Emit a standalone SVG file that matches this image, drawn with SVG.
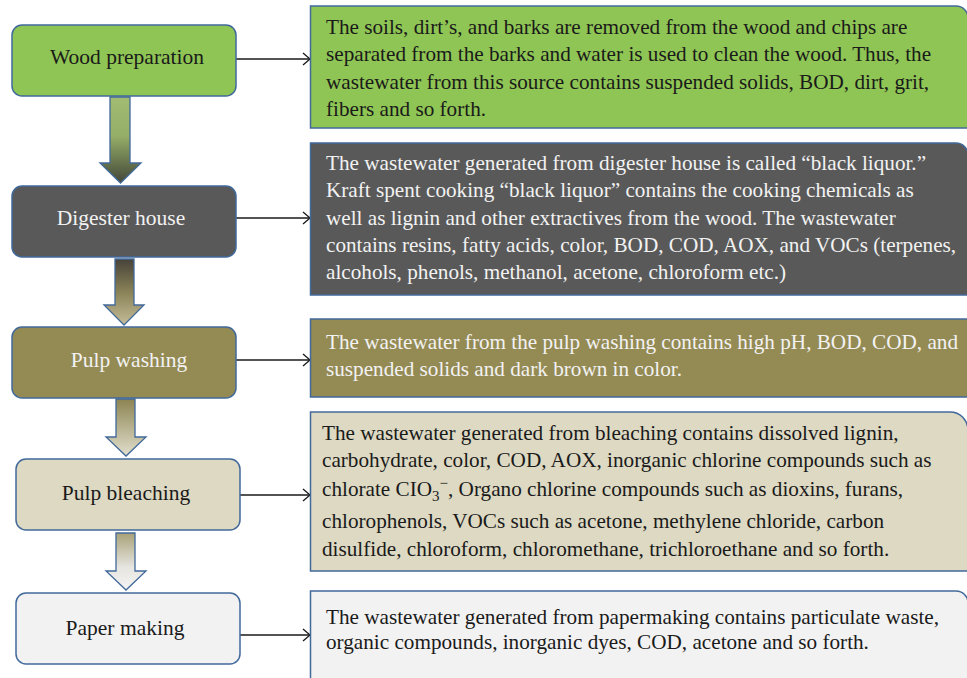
<svg xmlns="http://www.w3.org/2000/svg" width="967" height="678" viewBox="0 0 967 678">
<defs>
<style>
.box{stroke:#41699a;stroke-width:1.5}
.lbl{font-family:"Liberation Serif","Times New Roman",serif;font-size:21.5px;text-anchor:middle}
.txt{font-family:"Liberation Serif","Times New Roman",serif;font-size:21.2px}
.dk{fill:#f2f2f2}
.bk{fill:#1a1a1a}
.conn{stroke:#1a1a1a;stroke-width:1.3;fill:none}
.arw{stroke:#41699a;stroke-width:1.3}
</style>
<linearGradient id="g1" x1="0" y1="0" x2="0" y2="1">
<stop offset="0" stop-color="#a3bc73"/><stop offset="0.45" stop-color="#95ae68"/><stop offset="1" stop-color="#434739"/>
</linearGradient>
<linearGradient id="g2" x1="0" y1="0" x2="0" y2="1">
<stop offset="0" stop-color="#46423a"/><stop offset="0.5" stop-color="#8a8257"/><stop offset="1" stop-color="#c3bd98"/>
</linearGradient>
<linearGradient id="g3" x1="0" y1="0" x2="0" y2="1">
<stop offset="0" stop-color="#8c8452"/><stop offset="1" stop-color="#e2dfcd"/>
</linearGradient>
<linearGradient id="g4" x1="0" y1="0" x2="0" y2="1">
<stop offset="0" stop-color="#a8a178"/><stop offset="0.6" stop-color="#e6e5e0"/><stop offset="1" stop-color="#f4f4f4"/>
</linearGradient>
<marker id="chev" markerWidth="10" markerHeight="14" refX="8" refY="7" orient="auto" markerUnits="userSpaceOnUse">
<path d="M1,1 L8,7 L1,13" fill="none" stroke="#1a1a1a" stroke-width="1.3"/>
</marker>
</defs>

<g id="connectors">
<line class="conn" x1="236" y1="59" x2="310" y2="59" marker-end="url(#chev)"/>
<line class="conn" x1="236" y1="218" x2="310" y2="218" marker-end="url(#chev)"/>
<line class="conn" x1="236" y1="360" x2="310" y2="360" marker-end="url(#chev)"/>
<line class="conn" x1="240" y1="495" x2="310" y2="495" marker-end="url(#chev)"/>
<line class="conn" x1="240" y1="635" x2="310" y2="635" marker-end="url(#chev)"/>
<path class="arw" fill="url(#g1)" d="M110,97 H130 V163 H141 L120.5,183 L100,163 H110 Z"/>
<path class="arw" fill="url(#g2)" d="M115,259 H134 V305 H144 L124,325 L104,305 H115 Z"/>
<path class="arw" fill="url(#g3)" d="M116,399 H135 V437 H146 L126,456 L106,437 H116 Z"/>
<path class="arw" fill="url(#g4)" d="M116,533 H135 V571 H146 L126,590 L106,571 H116 Z"/>
</g>

<g id="wood-preparation">
<rect class="box" x="12" y="25" width="224" height="71" rx="10" fill="#8fc554"/>
<text class="lbl bk" x="127" y="64">Wood preparation</text>
</g>
<g id="digester-house">
<rect class="box" x="12" y="186" width="224" height="71" rx="10" fill="#595959"/>
<text class="lbl dk" x="121" y="225">Digester house</text>
</g>
<g id="pulp-washing">
<rect class="box" x="12" y="327" width="224" height="71" rx="10" fill="#948a54"/>
<text class="lbl dk" x="129" y="367">Pulp washing</text>
</g>
<g id="pulp-bleaching">
<rect class="box" x="16" y="459" width="224" height="71" rx="10" fill="#ddd9c3"/>
<text class="lbl bk" x="126" y="500">Pulp bleaching</text>
</g>
<g id="paper-making">
<rect class="box" x="16" y="593" width="224" height="71" rx="10" fill="#f2f2f2"/>
<text class="lbl bk" x="125" y="635">Paper making</text>
</g>

<g id="desc-wood">
<path class="box" fill="#8fc554" d="M310.5,6 H956 A12,12 0 0 1 968,18 V128 H310.5 Z"/>
<text class="txt bk">
<tspan x="326" y="34">The soils, dirt’s, and barks are removed from the wood and chips are</tspan>
<tspan x="326" y="61">separated from the barks and water is used to clean the wood. Thus, the</tspan>
<tspan x="326" y="89">wastewater from this source contains suspended solids, BOD, dirt, grit,</tspan>
<tspan x="326" y="116">fibers and so forth.</tspan>
</text>
</g>
<g id="desc-digester">
<path class="box" fill="#595959" d="M310.5,143 H956 A12,12 0 0 1 968,155 V295 H310.5 Z"/>
<text class="txt dk">
<tspan x="326" y="170">The wastewater generated from digester house is called “black liquor.”</tspan>
<tspan x="326" y="197">Kraft spent cooking “black liquor” contains the cooking chemicals as</tspan>
<tspan x="326" y="225">well as lignin and other extractives from the wood. The wastewater</tspan>
<tspan x="326" y="252">contains resins, fatty acids, color, BOD, COD, AOX, and VOCs (terpenes,</tspan>
<tspan x="326" y="279">alcohols, phenols, methanol, acetone, chloroform etc.)</tspan>
</text>
</g>
<g id="desc-washing">
<path class="box" fill="#948a54" d="M310.5,319 H968 V397 H310.5 Z"/>
<text class="txt dk">
<tspan x="326" y="349">The wastewater from the pulp washing contains high pH, BOD, COD, and</tspan>
<tspan x="326" y="376">suspended solids and dark brown in color.</tspan>
</text>
</g>
<g id="desc-bleaching">
<path class="box" fill="#ddd9c3" d="M310.5,412 H950 A18,18 0 0 1 968,430 V571 H310.5 Z"/>
<text class="txt bk">
<tspan x="322" y="440">The wastewater generated from bleaching contains dissolved lignin,</tspan>
<tspan x="322" y="467">carbohydrate, color, COD, AOX, inorganic chlorine compounds such as</tspan>
<tspan x="322" y="496">chlorate CIO</tspan><tspan dy="5" font-size="15px">3</tspan><tspan dy="-13" font-size="15px">−</tspan><tspan dy="8">, Organo chlorine compounds such as dioxins, furans,</tspan>
<tspan x="322" y="528">chlorophenols, VOCs such as acetone, methylene chloride, carbon</tspan>
<tspan x="322" y="556">disulfide, chloroform, chloromethane, trichloroethane and so forth.</tspan>
</text>
</g>
<g id="desc-paper">
<path class="box" fill="#f2f2f2" d="M310.5,680 V591 H956 A12,12 0 0 1 968,603 V680 Z"/>
<text class="txt bk">
<tspan x="326" y="624">The wastewater generated from papermaking contains particulate waste,</tspan>
<tspan x="326" y="649">organic compounds, inorganic dyes, COD, acetone and so forth.</tspan>
</text>
</g>
</svg>
